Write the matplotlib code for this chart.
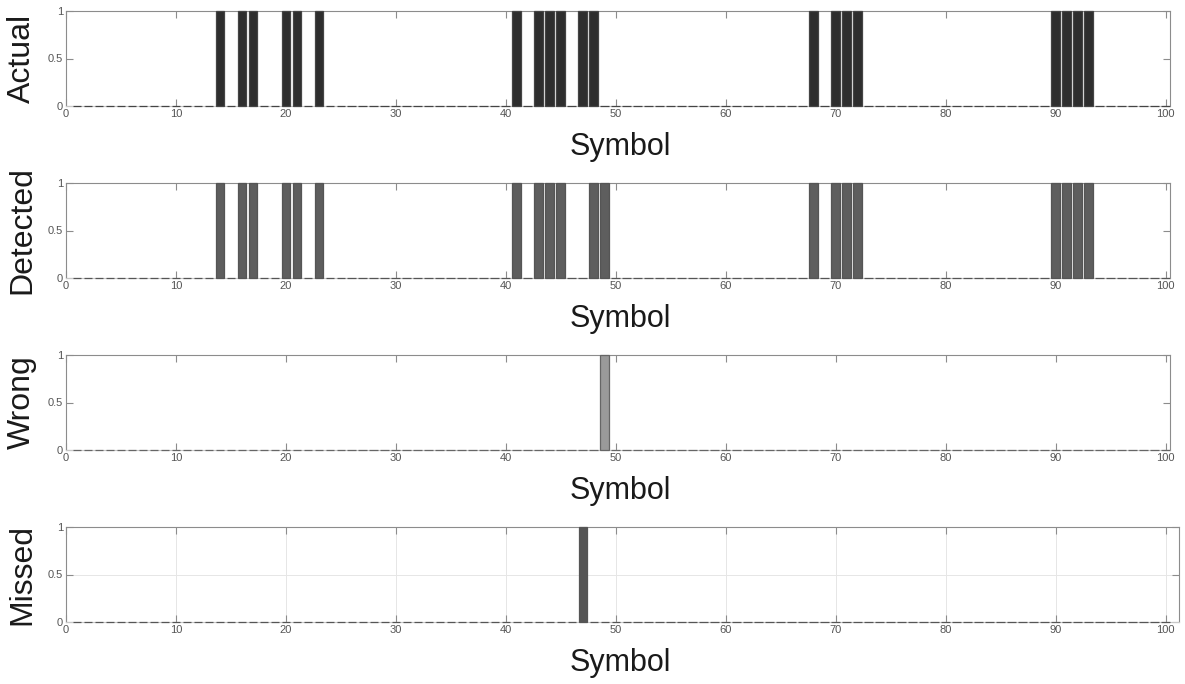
import numpy as np
import matplotlib
matplotlib.use("Agg")
import matplotlib.pyplot as plt

plt.rcParams['font.family'] = ['Liberation Sans', 'DejaVu Sans']

# ---- data ----
symbols = list(range(1, 101))
actual_ones = [14, 16, 17, 20, 21, 23, 41, 43, 44, 45, 47, 48, 68, 70, 71, 72, 90, 91, 92, 93]
detected_ones = [14, 16, 17, 20, 21, 23, 41, 43, 44, 45, 48, 49, 68, 70, 71, 72, 90, 91, 92, 93]
wrong_ones = [49]
missed_ones = [47]
panel_names = ["Actual", "Detected", "Wrong", "Missed"]
y_ticks = [0, 0.5, 1]
y_tick_labels = ["0", "0.5", "1"]
x_ticks = [0, 10, 20, 30, 40, 50, 60, 70, 80, 90, 100]
x_label = "Symbol"


def to_series(ones):
    return [1 if s in ones else 0 for s in symbols]


series = [to_series(actual_ones), to_series(detected_ones),
          to_series(wrong_ones), to_series(missed_ones)]

face_colors = ["#2e2e2e", "#5e5e5e", "#9a9a9a", "#555555"]
edge_colors = ["#444444", "#555555", "#666666", "#555555"]

W, H = 1185, 684
fig = plt.figure(figsize=(W / 100, H / 100), dpi=100)

tops = [11, 183, 355, 527]
rights = [1170, 1170, 1170, 1179]
xmaxes = [100.4, 100.4, 100.4, 101.2]
left = 66
ax_h = 95

axis_gray = "#8c8c8c"
for i in range(4):
    l = left / W
    b = 1 - (tops[i] + ax_h) / H
    w = (rights[i] - left) / W
    h = ax_h / H
    ax = fig.add_axes([l, b, w, h])
    ax.bar(symbols, series[i], width=0.8, color=face_colors[i],
           edgecolor=edge_colors[i], linewidth=0.9, zorder=3, clip_on=False)
    ax.set_xlim(0, xmaxes[i])
    ax.set_ylim(0, 1)
    ax.set_xticks(x_ticks)
    ax.set_yticks(y_ticks)
    ax.set_yticklabels(y_tick_labels)
    ax.tick_params(direction="in", length=5, width=0.8, colors=axis_gray,
                   labelcolor="#555555", labelsize=8, pad=2,
                   top=True, right=True)
    for sp in ax.spines.values():
        sp.set_color(axis_gray)
        sp.set_linewidth(0.8)
    ax.spines["bottom"].set_color("#c8c8c8")
    if i == 3:
        ax.grid(True, color="#e6e6e6", linewidth=0.7, zorder=0)
        ax.set_axisbelow(True)
    ax.set_ylabel(panel_names[i], fontsize=23, color="#1a1a1a")
    ax.yaxis.set_label_coords(-(left - 22) / (rights[i] - left), 0.5)
    ax.set_xlabel(x_label, fontsize=22, color="#1a1a1a")
    ax.xaxis.set_label_coords((620 - left) / (rights[i] - left), -41 / ax_h)
    ax.xaxis.label.set_va("center")
    ax.yaxis.label.set_va("center")

fig.savefig("out.png", dpi=100, facecolor="white")
